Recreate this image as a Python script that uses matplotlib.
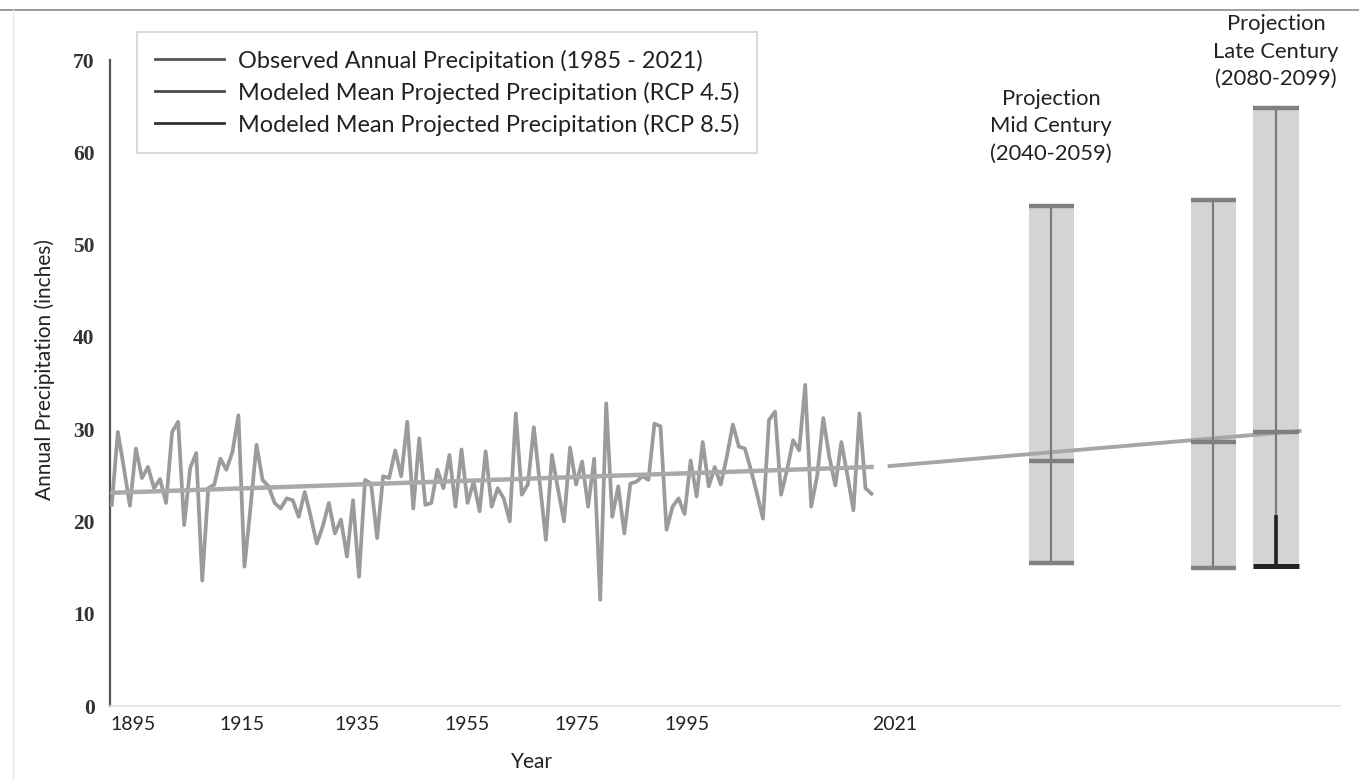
import numpy as np
import matplotlib.pyplot as plt
from matplotlib.lines import Line2D

plt.rcParams['font.family'] = ['Lato', 'DejaVu Sans']

# Observed annual precipitation, 1895 - 2021 (inches)
obs = [21.8, 29.7, 25.8, 21.7, 27.9, 24.7, 25.9, 23.6, 24.6, 22.0,
       29.7, 30.8, 19.6, 25.8, 27.4, 13.6, 23.6, 24.0, 26.8, 25.6,
       27.5, 31.5, 15.1, 21.5, 28.3, 24.5, 23.8, 22.0, 21.4, 22.5,
       22.3, 20.5, 23.2, 20.5, 17.6, 19.5, 22.0, 18.7, 20.2, 16.2,
       22.3, 14.0, 24.5, 24.1, 18.2, 24.9, 24.7, 27.7, 24.9, 30.8,
       21.4, 29.0, 21.8, 22.0, 25.6, 23.6, 27.2, 21.6, 27.8, 22.0,
       24.3, 21.1, 27.6, 21.6, 23.6, 22.5, 20.0, 31.7, 22.9, 24.0,
       30.2, 24.0, 18.0, 27.2, 23.5, 20.0, 28.0, 24.0, 26.5, 21.6,
       26.8, 11.5, 32.8, 20.5, 23.8, 18.7, 24.1, 24.3, 24.9, 24.5,
       30.6, 30.3, 19.1, 21.6, 22.5, 20.8, 26.6, 22.7, 28.6, 23.8,
       25.9, 24.0, 27.0, 30.5, 28.1, 27.9, 25.6, 23.0, 20.3, 31.0,
       31.9, 22.9, 25.6, 28.8, 27.7, 34.8, 21.6, 25.0, 31.2, 27.0,
       23.9, 28.6, 25.0, 21.2, 31.7, 23.6, 23.0]
years = np.arange(1895, 1895 + len(obs))

# trend of observed record
trend_years = [1895, 2021]
trend_vals = [23.1, 25.9]

# projected mean line
proj_years = [2024, 2092]
proj_vals = [26.0, 29.8]

# projection ranges: mid century, late century RCP 4.5, late century RCP 8.5
bar_x = [2050.8, 2077.7, 2088.1]
bar_low = [15.5, 15.0, 15.2]
bar_high = [54.2, 54.8, 64.8]
bar_mean = [26.6, 28.6, 29.7]
bar_w = 7.5

# x tick labels (placed where the source chart draws them)
tick_pos = [1898.6, 1916.6, 1935.6, 1953.9, 1972.1, 1990.4, 2024.9]
tick_labels = ['1895', '1915', '1935', '1955', '1975', '1995', '2021']

fig = plt.figure(figsize=(13.59, 7.8), dpi=100)
ax = fig.add_axes([110 / 1359, 74 / 780, 1230 / 1359, 646 / 780])

# shaded projection columns
ax.bar(bar_x, np.array(bar_high) - np.array(bar_low), bottom=bar_low,
       width=bar_w, color='#d4d4d4', edgecolor='none', zorder=1)

# observed series and trends
ax.plot(years, obs, color='#9b9b9b', lw=2.7, zorder=3)
ax.plot(trend_years, trend_vals, color='#a9a9a9', lw=3.2, zorder=4)
ax.plot(proj_years, proj_vals, color='#a6a6a6', lw=2.8, zorder=4)

# whiskers and caps
ax.vlines(bar_x, bar_low, bar_high, color='#7a7a7a', lw=1.6, zorder=5)
left = np.array(bar_x) - bar_w / 2
right = np.array(bar_x) + bar_w / 2
ax.hlines(bar_high, left, right, color='#7f7f7f', lw=3.2, zorder=5)
ax.hlines(bar_mean, left, right, color='#808080', lw=3.2, zorder=5)
ax.hlines(bar_low[:2], left[:2], right[:2], color='#828282', lw=3.2, zorder=5)
# RCP 8.5 lower part drawn darker
ax.vlines(bar_x[2], bar_low[2], 20.7, color='#222222', lw=2.6, zorder=6)
ax.hlines(bar_low[2], left[2], right[2], color='#222222', lw=3.6, zorder=6)

# labels over the projection columns
ax.text(bar_x[0], 62.8, 'Projection\nMid Century\n(2040-2059)', ha='center',
        va='center', fontsize=15.8, color='#222222', linespacing=1.45, clip_on=False)
ax.text(bar_x[2], 70.9, 'Projection\nLate Century\n(2080-2099)', ha='center',
        va='center', fontsize=15.8, color='#222222', linespacing=1.45, clip_on=False)

ax.set_xlim(1894.7, 2098.7)
ax.set_ylim(0, 70)
ax.set_yticks(range(0, 71, 10))
ax.set_yticklabels([str(v) for v in range(0, 71, 10)],
                   fontfamily='Liberation Serif', fontweight='bold',
                   fontsize=15.5, color='#333333')
ax.set_xticks(tick_pos)
ax.set_xticklabels(tick_labels, fontsize=14, color='#222222')
ax.tick_params(axis='both', length=0)
ax.tick_params(axis='y', pad=11)
ax.tick_params(axis='x', pad=7)

for s in ['top', 'right']:
    ax.spines[s].set_visible(False)
ax.spines['left'].set_color('#555555')
ax.spines['left'].set_linewidth(1.6)
ax.spines['bottom'].set_color('#e0e0e0')
ax.spines['bottom'].set_linewidth(1.2)

fig.text(532 / 1359, 1 - 762 / 780, 'Year', ha='center', va='center',
         fontsize=15, color='#222222')
fig.text(45 / 1359, 1 - 370 / 780, 'Annual Precipitation (inches)', ha='center',
         va='center', rotation=90, fontsize=15, color='#222222')

handles = [Line2D([], [], color='#555555', lw=2),
           Line2D([], [], color='#4a4a4a', lw=2),
           Line2D([], [], color='#333333', lw=2)]
labels = ['Observed Annual Precipitation (1985 - 2021)',
          'Modeled Mean Projected Precipitation (RCP 4.5)',
          'Modeled Mean Projected Precipitation (RCP 8.5)']
leg = ax.legend(handles, labels, loc='upper left', bbox_to_anchor=(137 / 1359, 1 - 32 / 780),
                bbox_transform=fig.transFigure, borderaxespad=0, fontsize=16.9,
                handlelength=2.95, handletextpad=0.6, labelspacing=0.42,
                frameon=True, fancybox=False, edgecolor='#c8c8c8',
                borderpad=0.75, labelcolor='#222222')
leg.get_frame().set_linewidth(1.2)

# scanned page border
fig.add_artist(Line2D([0, 1], [1 - 10 / 780, 1 - 10 / 780], transform=fig.transFigure,
                      color='#8a8a8a', lw=1.2))
fig.add_artist(Line2D([13 / 1359, 13 / 1359], [0, 1 - 10 / 780], transform=fig.transFigure,
                      color='#e6e6e6', lw=1))

fig.savefig('out.png', dpi=100)
